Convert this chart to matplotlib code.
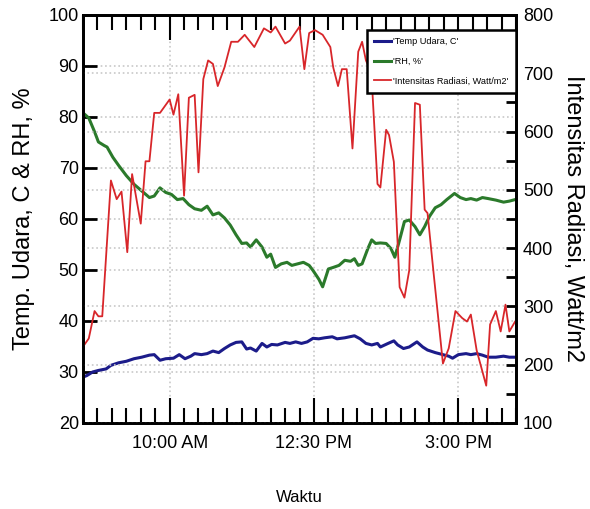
import matplotlib
matplotlib.use("Agg")
import matplotlib.pyplot as plt
import matplotlib.dates as mdates
from matplotlib.ticker import FuncFormatter, MultipleLocator
import pandas as pd

# Air temperature (C)
temp_time = ['08:30', '08:34', '08:40', '08:46', '08:54', '08:59', '09:07', '09:15', '09:23', '09:31',
             '09:39', '09:44', '09:50', '09:56', '10:04', '10:10', '10:16', '10:22', '10:26', '10:33',
             '10:39', '10:45', '10:51', '10:57', '11:03', '11:09', '11:15', '11:20', '11:24', '11:30',
             '11:36', '11:41', '11:46', '11:52', '12:00', '12:05', '12:11', '12:17', '12:23', '12:29',
             '12:35', '12:41', '12:49', '12:54', '13:02', '13:12', '13:18', '13:24', '13:30', '13:36',
             '13:39', '13:47', '13:53', '13:57', '14:03', '14:09', '14:17', '14:23', '14:28', '14:36',
             '14:44', '14:50', '14:54', '15:00', '15:08', '15:13', '15:19', '15:25', '15:31', '15:39',
             '15:47', '15:53', '15:59']
temp = [29.0, 29.3, 30.0, 30.3, 30.6, 31.3, 31.8, 32.1, 32.6, 32.9,
        33.3, 33.4, 32.3, 32.6, 32.7, 33.4, 32.6, 33.1, 33.6, 33.4,
        33.6, 34.1, 33.8, 34.6, 35.3, 35.8, 35.9, 34.5, 34.7, 34.1,
        35.6, 34.9, 35.4, 35.3, 35.8, 35.6, 35.9, 35.6, 35.9, 36.6,
        36.5, 36.7, 36.9, 36.5, 36.7, 37.1, 36.5, 35.6, 35.3, 35.6,
        34.9, 35.6, 36.1, 35.3, 34.6, 34.9, 35.9, 34.9, 34.3, 33.8,
        33.4, 33.1, 32.7, 33.4, 33.6, 33.4, 33.6, 33.3, 32.9, 32.9,
        33.1, 32.9, 32.9]

# Relative humidity (%)
rh_time = ['08:30', '08:36', '08:42', '08:46', '08:52', '08:55', '09:01', '09:07', '09:15', '09:23',
           '09:31', '09:39', '09:44', '09:50', '09:56', '10:02', '10:08', '10:14', '10:20', '10:26',
           '10:33', '10:39', '10:45', '10:51', '10:57', '11:03', '11:09', '11:15', '11:20', '11:24',
           '11:30', '11:36', '11:41', '11:45', '11:50', '11:56', '12:02', '12:07', '12:13', '12:19',
           '12:25', '12:29', '12:35', '12:39', '12:45', '12:50', '12:56', '13:02', '13:08', '13:12',
           '13:16', '13:20', '13:26', '13:30', '13:34', '13:39', '13:45', '13:50', '13:54', '13:59',
           '14:04', '14:09', '14:15', '14:20', '14:25', '14:30', '14:36', '14:42', '14:48', '14:56',
           '15:02', '15:08', '15:13', '15:19', '15:25', '15:31', '15:39', '15:47', '15:53', '15:59']
rh = [80.8, 79.8, 77.1, 75.1, 74.4, 74.1, 72.1, 70.5, 68.5, 66.8,
      65.5, 64.2, 64.5, 66.1, 65.2, 64.8, 63.8, 64.0, 62.8, 62.0,
      61.7, 62.5, 60.8, 61.2, 60.2, 58.8, 56.9, 55.2, 55.3, 54.5,
      55.9, 54.5, 52.5, 53.1, 50.5, 51.2, 51.5, 50.9, 51.2, 51.5,
      50.9, 49.9, 48.2, 46.7, 50.2, 50.5, 50.9, 51.9, 51.7, 52.2,
      50.9, 51.2, 54.2, 55.9, 55.2, 55.3, 55.2, 54.2, 52.5, 55.9,
      59.5, 59.8, 58.5, 56.9, 58.5, 60.5, 62.2, 62.8, 63.8, 65.0,
      64.2, 63.8, 64.0, 63.7, 64.2, 64.0, 63.7, 63.3, 63.5, 63.8]

# Radiation intensity (Watt/m2)
rad_time = ['08:30', '08:36', '08:42', '08:46', '08:50', '08:59', '09:05', '09:10', '09:16', '09:21',
            '09:30', '09:35', '09:39', '09:44', '09:50', '10:00', '10:04', '10:09', '10:15', '10:20',
            '10:26', '10:30', '10:35', '10:40', '10:45', '10:50', '10:57', '11:04', '11:11', '11:18',
            '11:28', '11:38', '11:45', '11:50', '12:00', '12:05', '12:15', '12:20', '12:25', '12:31',
            '12:39', '12:47', '12:50', '12:55', '12:59', '13:04', '13:10', '13:16', '13:20', '13:24',
            '13:28', '13:30', '13:36', '13:39', '13:45', '13:48', '13:53', '13:59', '14:04', '14:09',
            '14:15', '14:20', '14:25', '14:28', '14:34', '14:44', '14:50', '14:57', '15:04', '15:09',
            '15:13', '15:19', '15:29', '15:33', '15:39', '15:44', '15:49', '15:53', '15:59']
rad = [231, 245, 292, 283, 283, 516, 484, 497, 393, 527,
       442, 549, 549, 632, 632, 655, 629, 664, 490, 658,
       663, 530, 690, 722, 716, 678, 710, 754, 754, 766,
       745, 777, 770, 780, 751, 756, 780, 707, 769, 774,
       766, 745, 710, 678, 707, 707, 571, 737, 754, 722,
       707, 690, 510, 504, 603, 594, 548, 333, 315, 362,
       649, 646, 466, 460, 362, 202, 228, 292, 280, 274,
       286, 225, 164, 269, 292, 257, 303, 257, 274]

day = '2020-01-01 '
def to_dt(times):
    return pd.to_datetime([day + t for t in times])

narrow = ['Liberation Sans Narrow', 'DejaVu Sans Condensed', 'Liberation Sans']

fig = plt.figure(figsize=(5.9, 5.09), dpi=100)
ax = fig.add_axes([0.1407, 0.169, 0.734, 0.8016])
ax2 = ax.twinx()

l1, = ax.plot(to_dt(temp_time), temp, color='#1c1c8a', lw=2.2, label="'Temp Udara, C'")
l2, = ax.plot(to_dt(rh_time), rh, color='#2b7a2b', lw=2.2, label="'RH, %'")
l3, = ax2.plot(to_dt(rad_time), rad, color='#d8262a', lw=1.3, label="'Intensitas Radiasi, Watt/m2'")

ax.set_xlim(pd.Timestamp(day + '08:30'), pd.Timestamp(day + '16:00'))
ax.set_ylim(20, 100)
ax2.set_ylim(100, 800)

major = [pd.Timestamp(day + t) for t in ['10:00', '12:30', '15:00']]
ax.set_xticks(major)
ax.xaxis.set_minor_locator(mdates.MinuteLocator(byminute=[0, 15, 30, 45]))
ax.xaxis.set_major_formatter(FuncFormatter(lambda v, p: mdates.num2date(v).strftime('%I:%M %p').lstrip('0')))
ax.yaxis.set_major_locator(MultipleLocator(10))
ax2.yaxis.set_major_locator(MultipleLocator(100))
ax2.yaxis.set_minor_locator(MultipleLocator(50))

ax.tick_params(axis='x', which='major', direction='in', length=18, width=1.5, top=True, pad=9)
ax.tick_params(axis='x', which='minor', direction='in', length=11, width=1.5, top=True)
ax.tick_params(axis='y', which='major', direction='in', length=10, width=2, pad=3)
ax2.tick_params(axis='y', which='major', direction='in', length=7, width=2, pad=5)
ax2.tick_params(axis='y', which='minor', direction='in', length=7, width=2)

for a in (ax, ax2):
    for lab in a.get_xticklabels() + a.get_yticklabels():
        lab.set_fontfamily(narrow)
        lab.set_fontsize(13)
    for s in a.spines.values():
        s.set_linewidth(2)
        s.set_color('black')

ax.grid(True, which='major', axis='both', color='#c8c8c8', linestyle=':', lw=1.2)
ax2.grid(True, which='major', axis='y', color='#c8c8c8', linestyle=':', lw=1.2)

ax.set_ylabel('Temp. Udara, C & RH, %', fontsize=17, family='Liberation Sans', labelpad=10)
ax2.set_ylabel('Intensitas Radiasi, Watt/m2', fontsize=17, family='Liberation Sans',
               rotation=-90, va='bottom', labelpad=6)
ax.set_xlabel('Waktu', fontsize=12, family=narrow, labelpad=27)

leg = ax2.legend(handles=[l1, l2, l3], loc='upper right', bbox_to_anchor=(1.0, 0.963),
                 borderaxespad=0, fancybox=False, framealpha=1, edgecolor='black',
                 prop={'family': narrow, 'size': 6.6}, handlelength=1.8, handletextpad=0.3,
                 labelspacing=1.15, borderpad=0.8)
leg.get_frame().set_linewidth(1.8)

fig.savefig('out.png', dpi=100)
